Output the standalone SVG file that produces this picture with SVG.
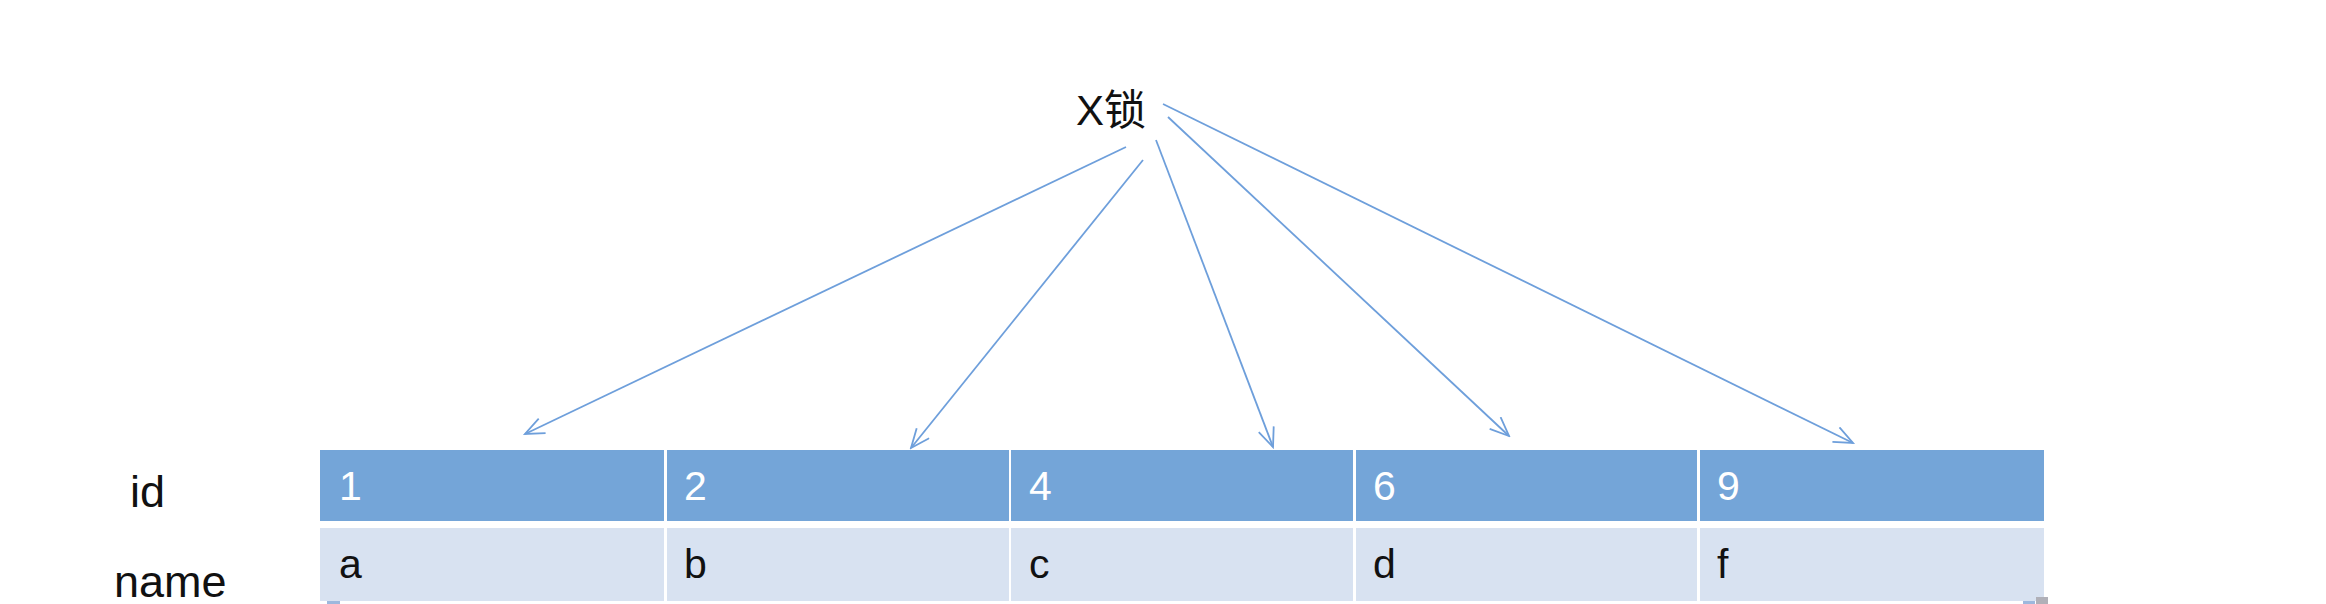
<svg xmlns="http://www.w3.org/2000/svg" width="2326" height="604" viewBox="0 0 2326 604">
<style>
.hdr{fill:#74A5D8}
.row{fill:#D8E2F1}
.ht{font-family:"Liberation Sans",Arial,sans-serif;font-size:41px;fill:#ffffff}
.rt{font-family:"Liberation Sans",Arial,sans-serif;font-size:41px;fill:#111111}
.lbl{font-family:"Liberation Sans",Arial,sans-serif;font-size:45px;fill:#111111}
.conn{stroke:#6E9FDB;stroke-width:1.8;fill:none;marker-end:url(#ah)}
</style>
<defs>
<marker id="ah" markerUnits="userSpaceOnUse" markerWidth="22" markerHeight="18" viewBox="0 0 22 18" refX="20" refY="9" orient="auto">
<path d="M1,1 L20,9 L1,17" fill="none" stroke="#6E9FDB" stroke-width="1.8"/>
</marker>
</defs>
<rect width="2326" height="604" fill="#ffffff"/>
<g id="lock">
<text x="1076" y="125" font-family="'Liberation Sans','Noto Sans CJK SC',sans-serif" font-size="42" fill="#111111">X锁</text>
</g>
<g id="labels">
<text class="lbl" x="130" y="507">id</text>
<text class="lbl" x="114" y="597">name</text>
</g>
<g id="col1">
<rect class="hdr" x="320" y="450" width="344" height="71"/>
<rect class="row" x="320" y="528" width="344" height="73"/>
<text class="ht" x="339" y="500">1</text>
<text class="rt" x="339" y="578">a</text>
</g>
<g id="col2">
<rect class="hdr" x="667" y="450" width="342" height="71"/>
<rect class="row" x="667" y="528" width="342" height="73"/>
<text class="ht" x="684" y="500">2</text>
<text class="rt" x="684" y="578">b</text>
</g>
<g id="col3">
<rect class="hdr" x="1011" y="450" width="342" height="71"/>
<rect class="row" x="1011" y="528" width="342" height="73"/>
<text class="ht" x="1029" y="500">4</text>
<text class="rt" x="1029" y="578">c</text>
</g>
<g id="col4">
<rect class="hdr" x="1356" y="450" width="341" height="71"/>
<rect class="row" x="1356" y="528" width="341" height="73"/>
<text class="ht" x="1373" y="500">6</text>
<text class="rt" x="1373" y="578">d</text>
</g>
<g id="col5">
<rect class="hdr" x="1700" y="450" width="344" height="71"/>
<rect class="row" x="1700" y="528" width="344" height="73"/>
<text class="ht" x="1717" y="500">9</text>
<text class="rt" x="1717" y="578">f</text>
</g>
<g id="connectors">
<line class="conn" x1="1126" y1="147" x2="525" y2="434"/>
<line class="conn" x1="1143" y1="160" x2="911" y2="448"/>
<line class="conn" x1="1156" y1="140" x2="1273" y2="447"/>
<line class="conn" x1="1168" y1="117" x2="1509" y2="436"/>
<line class="conn" x1="1163" y1="104" x2="1853" y2="443"/>
</g>
<g id="artifacts">
<rect x="327" y="601" width="13" height="3" fill="#9DB8DD"/>
<rect x="2023" y="601" width="12" height="3" fill="#9DB8DD"/>
<rect x="2036" y="597" width="12" height="7" fill="#B0B0B8"/>
</g>
</svg>
